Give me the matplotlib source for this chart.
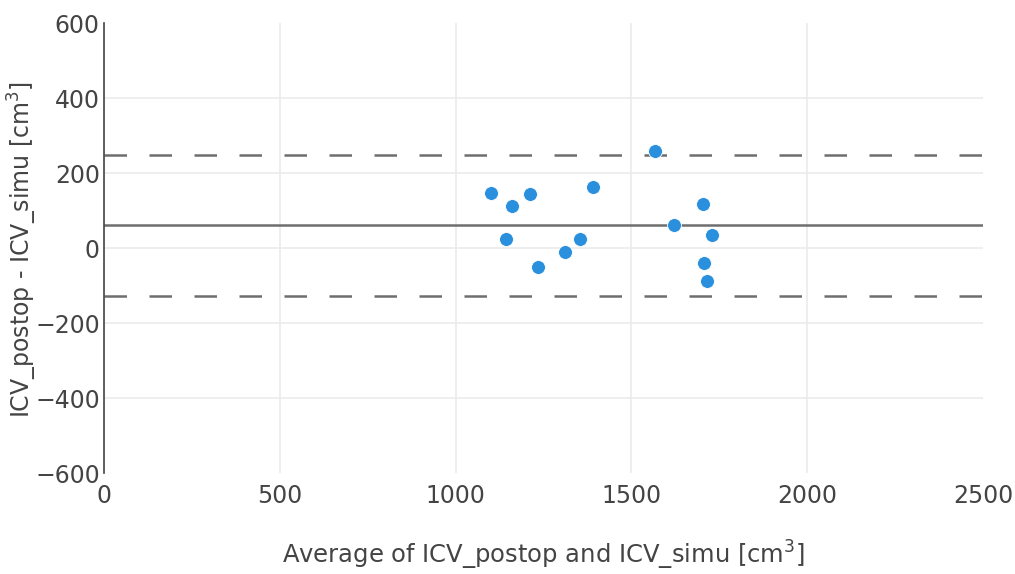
import matplotlib
matplotlib.use("Agg")
import matplotlib.pyplot as plt

# Bland-Altman points
avg_icv = [1101, 1160, 1211, 1142, 1390, 1234, 1311, 1355, 1566, 1622, 1704, 1729, 1707, 1715]
diff_icv = [147, 113, 144, 25, 164, -50, -11, 25, 259, 63, 119, 36, -39, -87]

mean_diff = 61
upper_loa = 249
lower_loa = -126

x_ticks = [0, 500, 1000, 1500, 2000, 2500]
y_ticks = [-600, -400, -200, 0, 200, 400, 600]
y_tick_labels = ['\u2212600', '\u2212400', '\u2212200', '0', '200', '400', '600']

plt.rcParams['font.family'] = ['DejaVu Sans']
text_color = '#444444'

fig = plt.figure(figsize=(10.15, 5.74), dpi=100)
ax = fig.add_axes([104 / 1015, 1 - 473.3 / 574, 879 / 1015, 450 / 574])

ax.set_xlim(0, 2500)
ax.set_ylim(-600, 600)
ax.set_xticks(x_ticks)
ax.set_yticks(y_ticks)
ax.set_yticklabels(y_tick_labels)
ax.grid(True, color='#ebebeb', linewidth=1.2)
ax.set_axisbelow(True)
# no gridline on the plot edges
ax.xaxis.get_gridlines()[-1].set_visible(False)
ax.yaxis.get_gridlines()[-1].set_visible(False)
ax.yaxis.get_gridlines()[0].set_visible(False)

for side in ['top', 'right', 'bottom']:
    ax.spines[side].set_visible(False)
ax.spines['left'].set_color('#444444')
ax.spines['left'].set_linewidth(1.2)

ax.axhline(mean_diff, color='#6e6e6e', linewidth=1.8, zorder=2)
ax.axhline(upper_loa, color='#6e6e6e', linewidth=1.8, linestyle=(0, (9, 9)), zorder=2)
ax.axhline(lower_loa, color='#6e6e6e', linewidth=1.8, linestyle=(0, (9, 9)), zorder=2)

ax.scatter(avg_icv, diff_icv, s=100, color='#2a8fdc', edgecolors='white',
           linewidths=0.6, zorder=3)

ax.tick_params(axis='both', length=0, labelsize=17, colors=text_color, pad=3)
ax.tick_params(axis='x', pad=8)

fig.text(543 / 1015, 1 - 555 / 574, 'Average of ICV_postop and ICV_simu [cm$^3$]',
         fontsize=17.5, color=text_color, ha='center', va='center')
fig.text(22 / 1015, 1 - 249 / 574, 'ICV_postop - ICV_simu [cm$^3$]',
         fontsize=17, color=text_color, ha='center', va='center', rotation=90)

plt.savefig('out.png', dpi=100)
